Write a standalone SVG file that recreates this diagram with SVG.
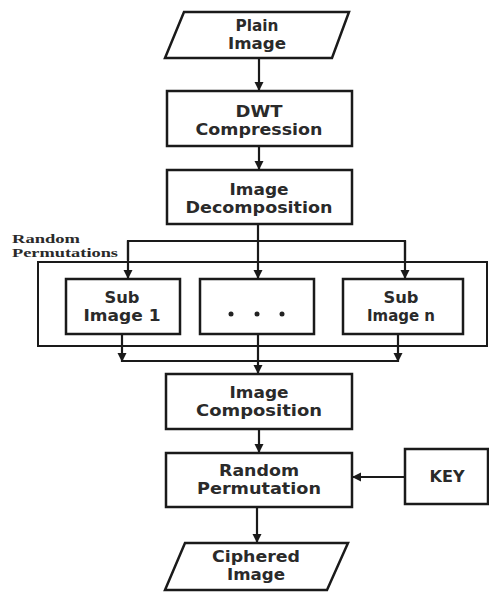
<svg xmlns="http://www.w3.org/2000/svg" width="489" height="592" viewBox="0 0 489 592">
<defs>
<style>
.box{fill:#fff;stroke:#1a1a1a;stroke-width:2.5}
.cont{fill:none;stroke:#1a1a1a;stroke-width:2}
.t{font-family:"DejaVu Sans",sans-serif;font-weight:bold;font-size:15px;fill:#2a2a2a;text-anchor:middle}
.lbl{font-family:"Liberation Serif",serif;font-weight:bold;font-size:12px;fill:#2a2a2a}
.c{fill:none;stroke:#1a1a1a;stroke-width:2.2}
</style>
<marker id="ah" markerUnits="userSpaceOnUse" markerWidth="10" markerHeight="10" viewBox="0 0 10 10" refX="9" refY="5" orient="auto">
<path d="M0,0.5 L9,5 L0,9.5 Z" fill="#1a1a1a"/>
</marker>
</defs>
<rect width="489" height="592" fill="#fff"/>
<g id="container">
<rect class="cont" x="38" y="262" width="449" height="84"/>
<text class="lbl" x="12" y="243" textLength="68" lengthAdjust="spacingAndGlyphs">Random</text>
<text class="lbl" x="12" y="257" textLength="106" lengthAdjust="spacingAndGlyphs">Permutations</text>
</g>
<g id="connectors">
<line class="c" x1="259" y1="58" x2="259" y2="91" marker-end="url(#ah)"/>
<line class="c" x1="259" y1="146" x2="259" y2="170" marker-end="url(#ah)"/>
<line class="c" x1="258" y1="224" x2="258" y2="279" marker-end="url(#ah)"/>
<polyline class="c" points="128,260 128,241 405,241 405,260"/>
<line class="c" x1="128" y1="241" x2="128" y2="279" marker-end="url(#ah)"/>
<line class="c" x1="405" y1="241" x2="405" y2="279" marker-end="url(#ah)"/>
<line class="c" x1="122" y1="334" x2="122" y2="362" marker-end="url(#ah)"/>
<line class="c" x1="398" y1="334" x2="398" y2="362" marker-end="url(#ah)"/>
<line class="c" x1="121" y1="361" x2="399" y2="361"/>
<line class="c" x1="258" y1="334" x2="258" y2="374" marker-end="url(#ah)"/>
<line class="c" x1="259" y1="429" x2="259" y2="453" marker-end="url(#ah)"/>
<line class="c" x1="405" y1="477" x2="352" y2="477" marker-end="url(#ah)"/>
<line class="c" x1="257" y1="507" x2="257" y2="543" marker-end="url(#ah)"/>
</g>
<g id="plain">
<polygon class="box" points="184,12 349,12 332,58 165,58"/>
<text class="t" x="257" y="31" textLength="43" lengthAdjust="spacingAndGlyphs">Plain</text>
<text class="t" x="257" y="49" textLength="58" lengthAdjust="spacingAndGlyphs">Image</text>
</g>
<g id="dwt">
<rect class="box" x="167" y="91" width="185" height="55"/>
<text class="t" x="259" y="117" textLength="47" lengthAdjust="spacingAndGlyphs">DWT</text>
<text class="t" x="259" y="135" textLength="127" lengthAdjust="spacingAndGlyphs">Compression</text>
</g>
<g id="decomp">
<rect class="box" x="167" y="170" width="185" height="54"/>
<text class="t" x="259" y="195" textLength="59" lengthAdjust="spacingAndGlyphs">Image</text>
<text class="t" x="259" y="213" textLength="147" lengthAdjust="spacingAndGlyphs">Decomposition</text>
</g>
<g id="sub1">
<rect class="box" x="66" y="279" width="114" height="55"/>
<text class="t" x="122" y="303" textLength="35" lengthAdjust="spacingAndGlyphs">Sub</text>
<text class="t" x="122" y="321" textLength="77" lengthAdjust="spacingAndGlyphs">Image 1</text>
</g>
<g id="dots">
<rect class="box" x="200" y="279" width="114" height="55"/>
<circle cx="231" cy="314" r="2.5" fill="#222"/>
<circle cx="257" cy="314" r="2.5" fill="#222"/>
<circle cx="282" cy="314" r="2.5" fill="#222"/>
</g>
<g id="subn">
<rect class="box" x="343" y="279" width="120" height="55"/>
<text class="t" x="401" y="303" textLength="35" lengthAdjust="spacingAndGlyphs">Sub</text>
<text class="t" x="401" y="321" textLength="68" lengthAdjust="spacingAndGlyphs">Image n</text>
</g>
<g id="comp">
<rect class="box" x="166" y="374" width="186" height="55"/>
<text class="t" x="259" y="398" textLength="59" lengthAdjust="spacingAndGlyphs">Image</text>
<text class="t" x="259" y="416" textLength="126" lengthAdjust="spacingAndGlyphs">Composition</text>
</g>
<g id="perm">
<rect class="box" x="166" y="453" width="186" height="54"/>
<text class="t" x="259" y="476" textLength="80" lengthAdjust="spacingAndGlyphs">Random</text>
<text class="t" x="259" y="494" textLength="124" lengthAdjust="spacingAndGlyphs">Permutation</text>
</g>
<g id="key">
<rect class="box" x="405" y="449" width="83" height="55"/>
<text class="t" x="447" y="482" textLength="35" lengthAdjust="spacingAndGlyphs">KEY</text>
</g>
<g id="ciphered">
<polygon class="box" points="185,543 348,543 327,590 165,590"/>
<text class="t" x="256" y="562" textLength="88" lengthAdjust="spacingAndGlyphs">Ciphered</text>
<text class="t" x="256" y="580" textLength="58" lengthAdjust="spacingAndGlyphs">Image</text>
</g>
</svg>
